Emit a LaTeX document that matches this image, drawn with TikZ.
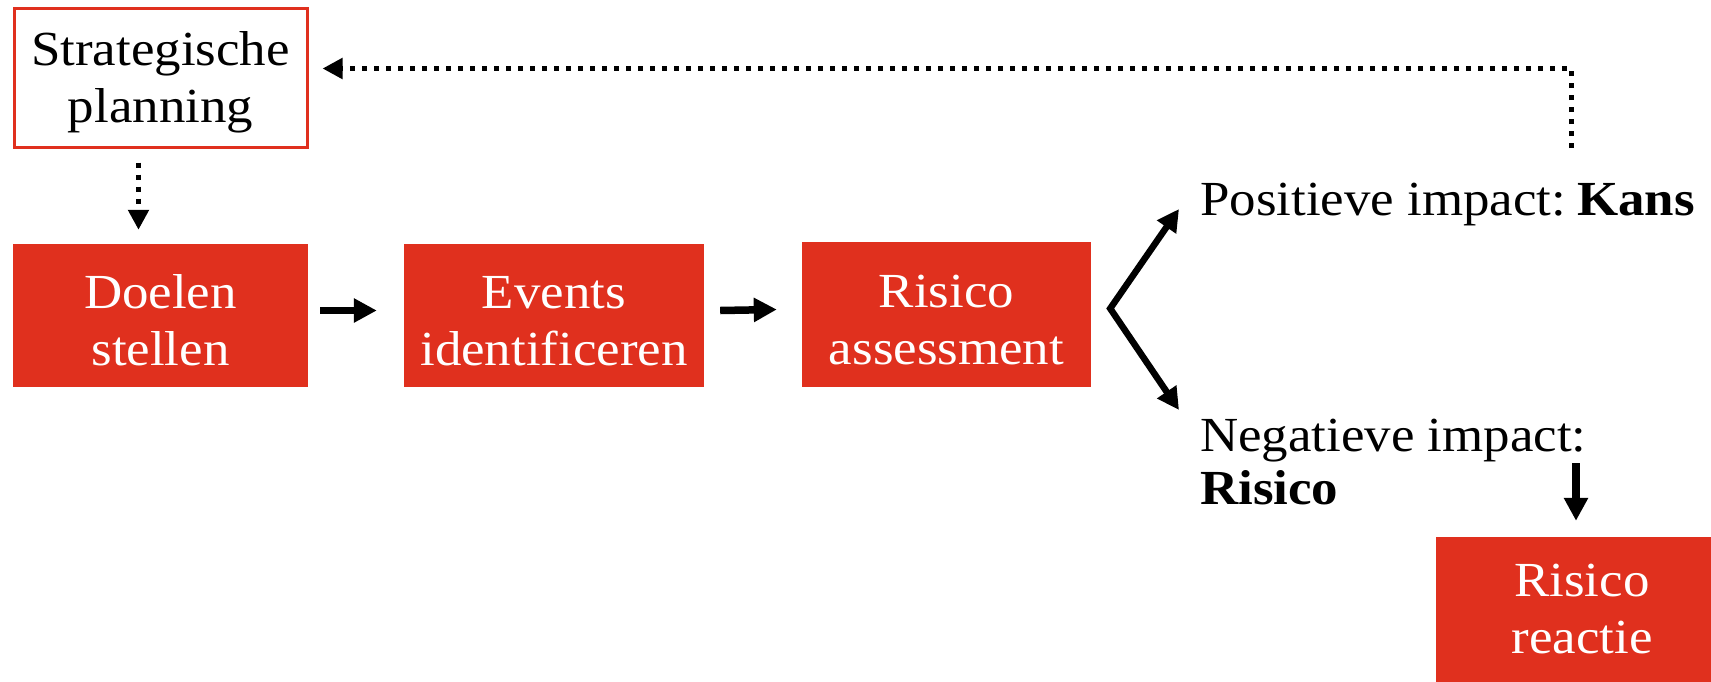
\documentclass[tikz,border=0pt]{standalone}
\usepackage{fontspec}
\setmainfont{Liberation Serif}[FakeStretch=1.08]
\usetikzlibrary{arrows.meta,calc}
\definecolor{pwcred}{HTML}{E0301E}
\newcommand{\topstrut}{\rule{0pt}{44pt}}
\begin{document}
\begin{tikzpicture}[x=1pt,y=-1pt,
  txt/.style={font=\fontsize{49}{57}\selectfont},
  redbox/.style={txt,fill=pwcred,text=white,minimum height=143pt,inner sep=0pt,align=center},
  planbox/.style={txt,draw=pwcred,line width=3pt,fill=white,minimum width=293pt,minimum height=139pt,inner sep=0pt,align=center},
  solidarrow/.style={line width=7.5pt,-{Triangle[length=23pt,width=23pt]}},
  dotarrow/.style={line width=5pt,dash pattern=on 5pt off 7pt,-{Triangle[length=20pt,width=20pt]}},
  label/.style={txt,inner sep=0pt,anchor=base west}]
\useasboundingbox (0,0) rectangle (1711,681);
\clip (0,0) rectangle (1711,681);
\fill[white] (0,0) rectangle (1711,681);
% nodes
\node[planbox] (strat) at (160.5,77.5) {\topstrut Strategische\\planning};
\node[redbox,minimum width=295pt] (doelen) at (160.5,315.5) {\topstrut Doelen\\stellen};
\node[redbox,minimum width=300pt] (events) at (554,315.5) {\topstrut Events\\identificeren};
\node[redbox,minimum width=289pt,minimum height=145pt] (risico) at (946.5,314.5) {\topstrut Risico\\assessment};
\node[redbox,minimum width=292pt,minimum height=145pt] (reactie) at (1582,609.5) {Risico\\reactie};
\node[label] (pos) at (1200,215) {Positieve impact:\hspace{11pt}\textbf{Kans}};
\node[label] (neg) at (1200,451) {Negatieve impact:};
\node[label] (negb) at (1200,504) {\textbf{Risico}};
% helper coordinates
\coordinate (fork) at ($(risico.east)+(19,-6)$);
\coordinate (fb) at (1571,148);
\coordinate (rstart) at (1576,463);
% connectors
\draw[dotarrow] ($(strat.south)+(-22,14)$) -- ($(doelen.north)+(-22,-14)$);
\draw[solidarrow] ($(doelen.east)+(12,-5)$) -- ($(events.west)+(-27,-5)$);
\draw[solidarrow] ($(events.east)+(16,-5)$) -- ($(risico.west)+(-25,-5)$);
\draw[line width=6.5pt,line join=miter,{Triangle[length=22pt,width=22pt]}-{Triangle[length=22pt,width=22pt]}]
  ($(pos.base west)+(-21,-6)$) -- (fork) -- ($(neg.base west)+(-21,-41)$);
\draw[solidarrow] (rstart) -- ($(reactie.north)+(-6,-16)$);
\draw[dotarrow] (fb) |- ($(strat.east)+(14,-9)$);
\end{tikzpicture}
\end{document}
